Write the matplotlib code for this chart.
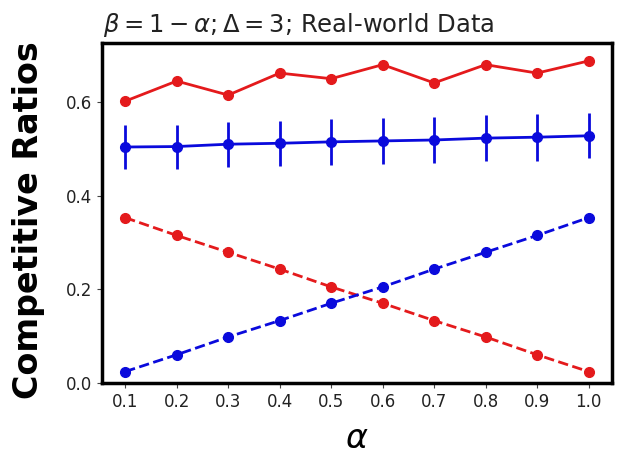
import matplotlib
matplotlib.use("Agg")
import matplotlib.pyplot as plt

alpha = [0.1, 0.2, 0.3, 0.4, 0.5, 0.6, 0.7, 0.8, 0.9, 1.0]
red_solid = [0.602, 0.645, 0.615, 0.662, 0.650, 0.680, 0.641, 0.680, 0.662, 0.688]
blue_solid = [0.504, 0.505, 0.510, 0.512, 0.515, 0.517, 0.519, 0.523, 0.525, 0.528]
blue_err = [0.047, 0.047, 0.048, 0.048, 0.049, 0.050, 0.049, 0.049, 0.050, 0.048]
blue_dashed = [0.024, 0.060, 0.098, 0.133, 0.170, 0.205, 0.243, 0.279, 0.315, 0.353]
red_dashed = [0.353, 0.315, 0.279, 0.243, 0.205, 0.170, 0.133, 0.098, 0.060, 0.024]
xtick_labels = ["0.1", "0.2", "0.3", "0.4", "0.5", "0.6", "0.7", "0.8", "0.9", "1.0"]

fig = plt.figure(figsize=(6.3, 4.59), dpi=100)
ax = fig.add_axes([0.162, 0.166, 0.809, 0.740])

ax.plot(alpha, red_solid, '-o', color='#e41a1c', lw=2, ms=7)
ax.errorbar(alpha, blue_solid, yerr=blue_err, fmt='-o', color='#0a0adc', lw=2, ms=7, elinewidth=2)
ax.plot(alpha, red_dashed, '--o', color='#e41a1c', lw=2, ms=7)
ax.plot(alpha, blue_dashed, '--o', color='#0a0adc', lw=2, ms=7)

ax.set_xticks(alpha)
ax.set_xticklabels(xtick_labels)
ax.set_yticks([0.0, 0.2, 0.4, 0.6])
ax.set_xlim(0.055, 1.045)
ax.set_ylim(0.0, 0.726)
ax.tick_params(labelsize=12, colors='#444444', labelcolor='#222222')
for s in ax.spines.values():
    s.set_linewidth(2.5)
    s.set_color('black')

ax.set_title(r'$\beta = 1 - \alpha; \Delta = 3$; Real-world Data', fontsize=17.5,
             color='#222222', x=0.386, pad=8)
ax.set_xlabel(r'$\alpha$', fontsize=24, labelpad=8)
ax.set_ylabel('Competitive Ratios', fontsize=24, fontweight='bold')
ax.yaxis.set_label_coords(-0.112, 0.48)

fig.savefig('out.png', dpi=100)
